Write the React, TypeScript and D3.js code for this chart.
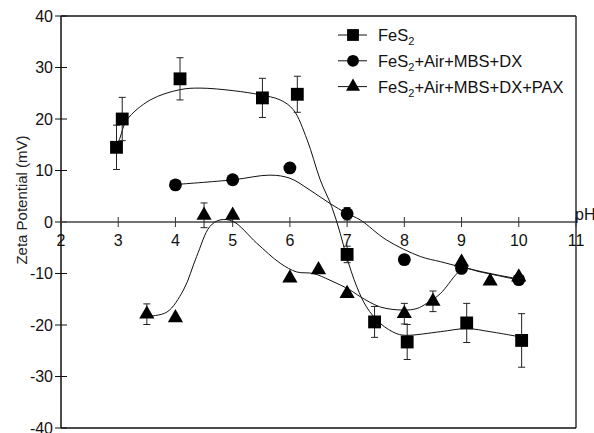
import React from 'react';
import * as d3 from 'd3';

// measured points
const phFeS2 = [2.97, 3.07, 4.08, 5.52, 6.13, 7.0, 7.48, 8.05, 9.09, 10.05];
const zetaFeS2 = [14.5, 20, 27.8, 24.1, 24.8, -6.3, -19.4, -23.3, -19.6, -23];
const errFeS2 = [4.3, 4.2, 4.1, 3.8, 3.5, 1.6, 3, 3.4, 3.8, 5.2];

const phDX = [4, 5, 6, 7, 8, 9, 10];
const zetaDX = [7.2, 8.2, 10.5, 1.6, -7.3, -9, -11.2];
const errDX = [0, 0, 0, 1.2, 0, 0, 0];

const phPAX = [3.5, 4, 4.5, 5, 6, 6.5, 7, 8, 8.5, 9, 9.5, 10];
const zetaPAX = [-17.9, -18.6, 1.3, 1.3, -10.9, -9.3, -13.9, -17.8, -15.4, -7.8, -11.5, -10.7];
const errPAX = [2, 0, 2.4, 0, 0, 0, 0, 2, 2, 0, 0, 0];

// fitted curves
const fitFeS2X = [2.97, 3.03, 3.15, 3.56, 4.08, 4.43, 5.01, 5.48, 5.83, 6.06, 6.3, 6.53, 6.73, 6.88, 6.99, 7.17, 7.34, 7.58, 7.87, 8.04, 8.63, 9.09, 9.5, 10.02];
const fitFeS2Y = [14.5, 16.3, 19.8, 23.7, 25.7, 26, 25.5, 24.7, 23.7, 21.8, 16, 8.2, 3, -2.2, -6.7, -12.6, -16.5, -19.7, -21.7, -22, -21.3, -20.7, -21.3, -22.3];

const fitDXX = [4.02, 5.01, 5.65, 6.0, 6.35, 6.7, 6.99, 7.23, 7.69, 8.28, 8.63, 8.98, 9.5, 9.97];
const fitDXY = [7.3, 8.2, 9.1, 8.5, 6.2, 3.6, 1.7, 0.4, -3.5, -6.7, -7.7, -8.7, -10, -11];

const fitPAXX = [3.53, 3.85, 4.14, 4.37, 4.6, 4.78, 5.01, 5.42, 5.83, 6.12, 6.41, 6.7, 7.05, 7.23, 7.58, 7.98, 8.22, 8.39, 8.63, 8.92, 9.04, 9.33, 10.02];
const fitPAXY = [-18.3, -17.5, -13.2, -6.7, -0.9, 0.4, 0.1, -4.1, -8, -9.7, -10, -11.3, -13.2, -14.5, -16.5, -17.1, -16.8, -15.8, -13.9, -10, -9, -9.7, -11.3];

const xTicks = [2, 3, 4, 5, 6, 7, 8, 9, 10, 11];
const yTicks = [-40, -30, -20, -10, 0, 10, 20, 30, 40];
const legendNames = ['+Air+MBS+DX', '+Air+MBS+DX+PAX'];

const width = 594;
const height = 433;
const margin = { top: 16, right: 18, bottom: 5, left: 61 };
const font = '"Liberation Sans", Arial, sans-serif';

const App = () => {
  const x = d3.scaleLinear().domain([2, 11]).range([margin.left, width - margin.right]);
  const y = d3.scaleLinear().domain([-40, 40]).range([height - margin.bottom, margin.top]);

  const line = d3
    .line<[number, number]>()
    .x(d => x(d[0]))
    .y(d => y(d[1]))
    .curve(d3.curveCatmullRom.alpha(0.5));

  const zip = (a: number[], b: number[]) => a.map((v, i) => [v, b[i]] as [number, number]);

  const square = d3.symbol(d3.symbolSquare, 165)();
  const circle = d3.symbol(d3.symbolCircle, 130)();
  const triangle = d3.symbol(d3.symbolTriangle, 100)();

  const series = [
    { ph: phFeS2, zeta: zetaFeS2, err: errFeS2, sym: square },
    { ph: phDX, zeta: zetaDX, err: errDX, sym: circle },
    { ph: phPAX, zeta: zetaPAX, err: errPAX, sym: triangle }
  ];

  const fits = [zip(fitFeS2X, fitFeS2Y), zip(fitDXX, fitDXY), zip(fitPAXX, fitPAXY)];

  const x0 = x(2), x1 = x(11), yTop = y(40), yBot = y(-40), yZero = y(0);

  return (
    <svg
      width={width}
      height={height}
      style={{ position: 'absolute', left: 0, top: 0, background: '#fff' }}
      fontFamily={font}
    >
      {/* frame */}
      <line x1={x0} x2={x1} y1={yTop} y2={yTop} stroke="#111" strokeWidth={1.5} />
      <line x1={x1} x2={x1} y1={yTop} y2={yBot} stroke="#333" strokeWidth={1.5} />
      <line x1={x0} x2={x1} y1={yBot} y2={yBot} stroke="#111" strokeWidth={1.5} />
      <line x1={x0} x2={x0} y1={yTop} y2={yBot} stroke="#111" strokeWidth={1.5} />

      {/* y axis ticks */}
      {yTicks.map(t => (
        <g key={'y' + t}>
          <line x1={x0 - 6} x2={x0 + 6} y1={y(t)} y2={y(t)} stroke="#111" strokeWidth={1} />
          <text x={x0 - 8} y={y(t)} dy="0.36em" textAnchor="end" fontSize={16} fill="#111">
            {t}
          </text>
        </g>
      ))}

      {/* x axis at zero */}
      <line x1={x0} x2={x1} y1={yZero} y2={yZero} stroke="#444" strokeWidth={1.6} />
      {xTicks.map(t => (
        <g key={'x' + t}>
          <line x1={x(t)} x2={x(t)} y1={yZero - 5} y2={yZero + 5} stroke="#333" strokeWidth={1} />
          <text x={x(t)} y={yZero + 24} textAnchor="middle" fontSize={16} fill="#111">
            {t}
          </text>
        </g>
      ))}
      <text x={x1 - 1} y={yZero - 2} fontSize={16} fill="#111">pH</text>

      <text
        transform={`translate(27, 200) rotate(-90)`}
        textAnchor="middle"
        fontSize={15}
        fill="#222"
      >
        Zeta Potential (mV)
      </text>

      {/* fitted curves */}
      {fits.map((f, i) => (
        <path key={'f' + i} d={line(f) || ''} fill="none" stroke="#111" strokeWidth={1} />
      ))}

      {/* error bars and markers */}
      {series.map((s, si) => (
        <g key={'s' + si}>
          {s.ph.map((p, i) =>
            s.err[i] > 0 ? (
              <g key={'e' + i} stroke="#222" strokeWidth={1}>
                <line x1={x(p)} x2={x(p)} y1={y(s.zeta[i] + s.err[i])} y2={y(s.zeta[i] - s.err[i])} />
                <line x1={x(p) - 3.5} x2={x(p) + 3.5} y1={y(s.zeta[i] + s.err[i])} y2={y(s.zeta[i] + s.err[i])} />
                <line x1={x(p) - 3.5} x2={x(p) + 3.5} y1={y(s.zeta[i] - s.err[i])} y2={y(s.zeta[i] - s.err[i])} />
              </g>
            ) : null
          )}
          {s.ph.map((p, i) => (
            <path key={'m' + i} d={s.sym || ''} transform={`translate(${x(p)},${y(s.zeta[i])})`} fill="#000" />
          ))}
        </g>
      ))}

      {/* legend */}
      {series.map((s, i) => {
        const ly = 35 + i * 25.8;
        return (
          <g key={'l' + i}>
            <line x1={338} x2={367} y1={ly} y2={ly} stroke="#111" strokeWidth={1} />
            <path d={s.sym || ''} transform={`translate(353,${ly}) scale(0.92)`} fill="#000" />
            <text x={378} y={ly + 6} fontSize={16.5} fill="#111">
              FeS
              <tspan fontSize={11} dy={4}>2</tspan>
              <tspan dy={-4}>{i > 0 ? legendNames[i - 1] : ''}</tspan>
            </text>
          </g>
        );
      })}
    </svg>
  );
};

export default App;
